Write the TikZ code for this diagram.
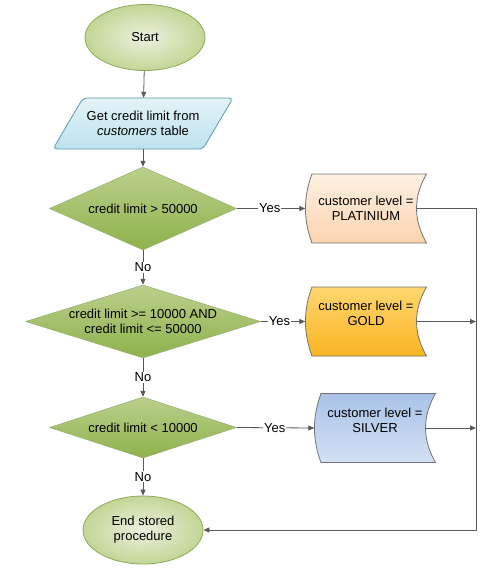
\documentclass[tikz,border=0pt]{standalone}
\usepackage{fontspec}
\setmainfont{Liberation Sans}
\usetikzlibrary{shapes.geometric,arrows.meta}
\definecolor{term1}{RGB}{235,241,222}
\definecolor{term2}{RGB}{194,214,150}
\definecolor{termline}{RGB}{140,170,85}
\definecolor{dec1}{RGB}{186,208,140}
\definecolor{dec2}{RGB}{143,177,75}
\definecolor{decline}{RGB}{150,175,110}
\definecolor{io1}{RGB}{228,243,248}
\definecolor{io2}{RGB}{188,226,237}
\definecolor{ioline}{RGB}{85,155,178}
\definecolor{plat1}{RGB}{254,240,225}
\definecolor{plat2}{RGB}{251,212,176}
\definecolor{gold1}{RGB}{255,214,112}
\definecolor{gold2}{RGB}{249,180,34}
\definecolor{silv1}{RGB}{168,194,231}
\definecolor{silv2}{RGB}{212,225,245}
\definecolor{wire}{RGB}{89,89,89}
\begin{document}
\begin{tikzpicture}[x=1pt,y=-1pt,font=\fontsize{13}{15}\selectfont,
  wires/.style={draw=wire,line width=0.8pt},
  arr/.style={wires,-{Triangle[length=6pt,width=5pt]}},
  lbl/.style={fill=white,inner sep=1pt},
  term/.style={ellipse,draw=termline,line width=0.8pt,inner color=term1,outer color=term2,inner sep=0,minimum width=120,minimum height=66,align=center},
  dec/.style={diamond,draw=decline,line width=0.5pt,top color=dec1,bottom color=dec2,inner sep=0,align=center},
  store/.style={draw=black!55,line width=0.8pt}]
\useasboundingbox (0,0) rectangle (488,570);
\node[term] (start) at (145,37.5) {Start};
\path[draw=ioline,line width=0.8pt,rounded corners=4,top color=io1,bottom color=io2] (83,98) -- (233,98) -- (203,149) -- (53,149) -- cycle;
\node[inner sep=0,minimum width=150,minimum height=51,align=center] (get) at (143,123.5) {Get credit limit from\\\textit{customers} table};
\node[dec,aspect=2.25,minimum width=187,minimum height=83] (d1) at (143,208.5) {credit limit > 50000};
\node[dec,aspect=3.22,minimum width=235,minimum height=73] (d2) at (143,321.5) {credit limit >= 10000 AND\\credit limit <= 50000};
\node[dec,aspect=3.07,minimum width=187,minimum height=61] (d3) at (143,427.5) {credit limit < 10000};
\node[term,minimum height=68] (end) at (143,530) {End stored\\procedure};
\foreach \n/\x/\y/\dy/\lvl in {plat/366/208.5/0/PLATINIUM,gold/366/321.5/8/GOLD,silv/375/428/8/SILVER}{
  \path[store,top color=\n1,bottom color=\n2] (\x-54,\y-34.5) -- (\x+60.5,\y-34.5) .. controls (\x+47.2,\y-11.5) and (\x+47.2,\y+11.5) .. (\x+60.5,\y+34.5) -- (\x-54,\y+34.5) .. controls (\x-62.7,\y+11.5) and (\x-62.7,\y-11.5) .. cycle;
  \node[inner sep=0,minimum width=121,minimum height=69,label={[align=center,yshift=\dy]center:customer level =\\\lvl}] (\n) at (\x,\y) {};
  \coordinate (\n-out) at (\x+50.5,\y);
}
\coordinate (bus) at (476,530);
\draw[arr] (start) -- (get);
\draw[arr] (get) -- (d1);
\draw[arr] (d1) -- node[lbl]{No} (d2);
\draw[arr] (d2) -- node[lbl]{No} (d3);
\draw[arr] (d3) -- node[lbl]{No} (end);
\draw[arr] (d1.east) -- node[lbl,pos=0.48]{Yes} (plat.west);
\draw[arr] (d2.east) -- node[lbl,pos=0.42]{Yes} (gold.west);
\draw[arr] (d3.east) -- node[lbl,pos=0.49]{Yes} (silv.west);
\draw[arr] (plat-out) -| (bus) -- (end);
\draw[arr] (gold-out) -- (gold-out -| bus);
\draw[arr] (silv-out) -- (silv-out -| bus);
\end{tikzpicture}
\end{document}
